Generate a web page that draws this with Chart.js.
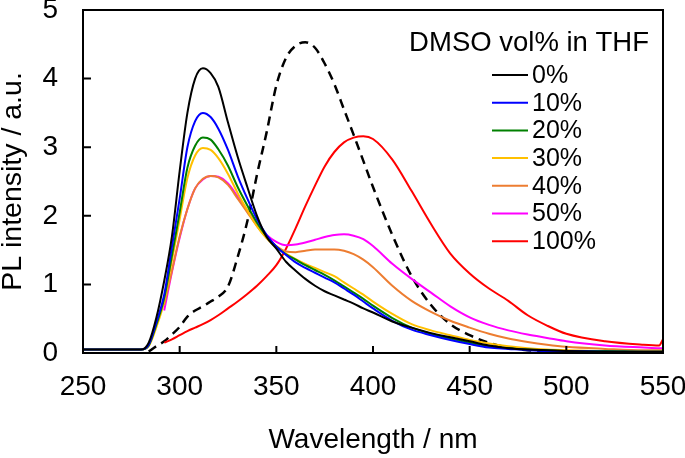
<!DOCTYPE html>
<html>
<head>
<meta charset="utf-8">
<script src="https://cdn.jsdelivr.net/npm/chart.js@4.4.1/dist/chart.umd.min.js"></script>
<style>
  html, body { margin: 0; padding: 0; background: #fff; }
  #wrap { width: 685px; height: 458px; }
</style>
</head>
<body>
<div id="wrap"><canvas id="chart-area"></canvas></div>
<script>
// wavelength (nm)
var wl = [250,270,280, 284,288,292,296, 300,304,308,312,316,
  320,325,330,335,340,345,350,355,360,365,370,375,380,385,390,395,
  400,410,420,430,440,450,460,470,480,490,500, 520,540,548,550];

// PL intensity / a.u. for each DMSO vol%
var v0 = [.05,.05,.05, .15,.52,1.05,1.7, 2.65,3.5,4.0,4.15,4.08,
  3.88,3.36,2.86,2.42,2.0,1.69,1.52,1.33,1.2,1.08,0.98,0.9,0.84,0.78,0.72,0.65,
  0.59,0.46,0.37,0.29,0.23,0.17,0.11,0.07,0.05,0.04,0.03, 0.02,0.02,0.02,0.02];
var v10 = [.05,.05,.05, .12,.45,.85,1.55, 2.25,3.0,3.38,3.5,3.44,
  3.27,2.96,2.58,2.25,1.95,1.72,1.55,1.43,1.32,1.24,1.17,1.1,1.03,0.94,0.85,0.75,
  0.65,0.47,0.34,0.26,0.19,0.13,0.08,0.06,0.04,0.03,0.03, 0.02,0.02,0.02,0.02];
var v20 = [.05,.05,.05, .11,.42,.8,1.42, 2.05,2.7,3.02,3.14,3.11,
  2.97,2.73,2.42,2.15,1.9,1.7,1.55,1.44,1.36,1.28,1.21,1.14,1.06,0.97,0.88,0.79,
  0.69,0.51,0.37,0.28,0.21,0.15,0.1,0.07,0.05,0.04,0.03, 0.03,0.02,0.02,0.02];
var v30 = [.05,.05,.05, .1,.38,.75,1.35, 1.95,2.55,2.88,2.99,2.96,
  2.84,2.61,2.33,2.08,1.85,1.67,1.54,1.45,1.37,1.3,1.24,1.18,1.12,1.03,0.94,0.85,
  0.75,0.57,0.42,0.33,0.26,0.19,0.14,0.1,0.07,0.05,0.04, 0.03,0.03,0.03,0.03];
var v40 = [null,null,null, null,null,.7,1.2, 1.7,2.1,2.4,2.54,2.58,
  2.56,2.45,2.25,2.05,1.85,1.68,1.56,1.48,1.47,1.49,1.51,1.51,1.51,1.49,1.44,1.36,
  1.25,0.98,0.76,0.6,0.47,0.37,0.28,0.21,0.16,0.12,0.09, 0.06,0.04,0.04,0.04];
var v50 = [null,null,null, null,null,.62,1.18, 1.68,2.1,2.4,2.53,2.58,
  2.57,2.47,2.28,2.08,1.88,1.72,1.62,1.57,1.58,1.61,1.65,1.69,1.72,1.73,1.71,1.66,
  1.56,1.3,1.08,0.88,0.68,0.52,0.41,0.33,0.27,0.22,0.17, 0.11,0.08,0.07,0.07];
var v100 = [null,null,null, null,null,.15,.2, .26,.32,.37,.42,.48,
  .55,.65,.75,.86,.98,1.12,1.28,1.52,1.82,2.14,2.44,2.72,2.93,3.07,3.14,3.16,
  3.12,2.82,2.36,1.88,1.45,1.16,0.94,0.76,0.55,0.4,0.28, 0.17,0.12,0.11,0.2];
// dashed black curve (no legend entry)
var vDash = [null,null,null, .02,.1,.17,.27, .38,.53,.62,.68,.75,
  .82,.97,1.4,1.92,2.6,3.22,3.9,4.3,4.48,4.53,4.45,4.22,3.92,3.55,3.18,2.8,
  2.42,1.72,1.12,0.7,0.42,0.26,0.15,0.08,0.04,0.02,0.01, 0,0,0,0];

var labels = ['0%','10%','20%','30%','40%','50%','100%'];
var colors = ['#000000','#0000ff','#008000','#ffc000','#ed7d31','#ff00ff','#ff0000'];
var series = [v0, v10, v20, v30, v40, v50, v100];

var xTicks = [250,300,350,400,450,500,550];
var yTicks = [0,1,2,3,4,5];

var FONT = "'Liberation Sans', Arial, sans-serif";

function toPoints(vals)
{
  var pts = [];
  for (var i = 0; i < wl.length; i++)
  {
    pts.push({x: wl[i], y: vals[i]});
  }
  return pts;
}

var datasets = [];
for (var i = 0; i < series.length; i++)
{
  datasets.push({
    label: labels[i],
    data: toPoints(series[i]),
    borderColor: colors[i],
    borderWidth: 2,
    pointRadius: 0,
    cubicInterpolationMode: 'monotone',
    spanGaps: false
  });
}
datasets.push({
  label: 'dash',
  data: toPoints(vDash),
  borderColor: '#000000',
  borderWidth: 2.5,
  borderDash: [9, 6],
  pointRadius: 0,
  cubicInterpolationMode: 'monotone',
  spanGaps: false
});

// frame, inward ticks and inner legend
var framePlugin = {
  id: 'frame',
  afterDraw: function(chart) {
    var ctx = chart.ctx;
    var a = chart.chartArea;
    var xs = chart.scales.x, ys = chart.scales.y;
    ctx.save();
    ctx.strokeStyle = '#000';
    ctx.lineWidth = 2;
    ctx.strokeRect(a.left, a.top, a.right - a.left, a.bottom - a.top);
    ctx.beginPath();
    xTicks.forEach(function(t) {
      var px = xs.getPixelForValue(t);
      ctx.moveTo(px, a.bottom);
      ctx.lineTo(px, a.bottom - 7);
    });
    yTicks.forEach(function(t) {
      var py = ys.getPixelForValue(t);
      ctx.moveTo(a.left, py);
      ctx.lineTo(a.left + 8, py);
    });
    ctx.stroke();

    // legend
    ctx.fillStyle = '#000';
    ctx.textBaseline = 'middle';
    ctx.font = '27.5px ' + FONT;
    ctx.textAlign = 'right';
    ctx.fillText('DMSO vol% in THF', 649, 43);
    ctx.font = '25px ' + FONT;
    ctx.textAlign = 'left';
    for (var i = 0; i < labels.length; i++)
    {
      var y = 75 + i * 27.7;
      ctx.strokeStyle = colors[i];
      ctx.lineWidth = 2;
      ctx.beginPath();
      ctx.moveTo(492, y);
      ctx.lineTo(528, y);
      ctx.stroke();
      ctx.fillText(labels[i], 532, y + 1);
    }
    ctx.restore();
  }
};

var config = {
  type: 'line',
  data: { datasets: datasets },
  options: {
    responsive: true,
    maintainAspectRatio: false,
    animation: false,
    layout: { padding: { top: 10, right: 22, left: 0, bottom: 0 } },
    plugins: {
      legend: { display: false },
      tooltip: { enabled: false }
    },
    scales: {
      x: {
        type: 'linear',
        min: 250,
        max: 550,
        afterFit: function(s) { s.height = 105; s.paddingLeft = 0; s.paddingRight = 0; },
        afterBuildTicks: function(s) { s.ticks = xTicks.map(function(v) { return {value: v}; }); },
        grid: { display: false, drawTicks: false },
        border: { display: false },
        ticks: { color: '#000', padding: 20, font: { family: FONT, size: 28, lineHeight: 1 }, maxRotation: 0 },
        title: { display: true, text: 'Wavelength / nm', color: '#000', font: { family: FONT, size: 28, lineHeight: 1 }, padding: { top: 0, bottom: 4 } }
      },
      y: {
        min: 0,
        max: 5,
        afterFit: function(s) { s.width = 83; s.paddingTop = 0; s.paddingBottom = 0; },
        afterBuildTicks: function(s) { s.ticks = yTicks.map(function(v) { return {value: v}; }); },
        grid: { display: false, drawTicks: false },
        border: { display: false },
        ticks: { color: '#000', padding: 25, font: { family: FONT, size: 28, lineHeight: 1 } },
        title: { display: true, text: 'PL intensity / a.u.', color: '#000', font: { family: FONT, size: 28.5, lineHeight: 0.9 }, padding: { top: 0, bottom: 0 } }
      }
    }
  },
  plugins: [framePlugin]
};

var ctx = document.getElementById('chart-area').getContext('2d');
window.myChart = new Chart(ctx, config);
</script>
</body>
</html>
